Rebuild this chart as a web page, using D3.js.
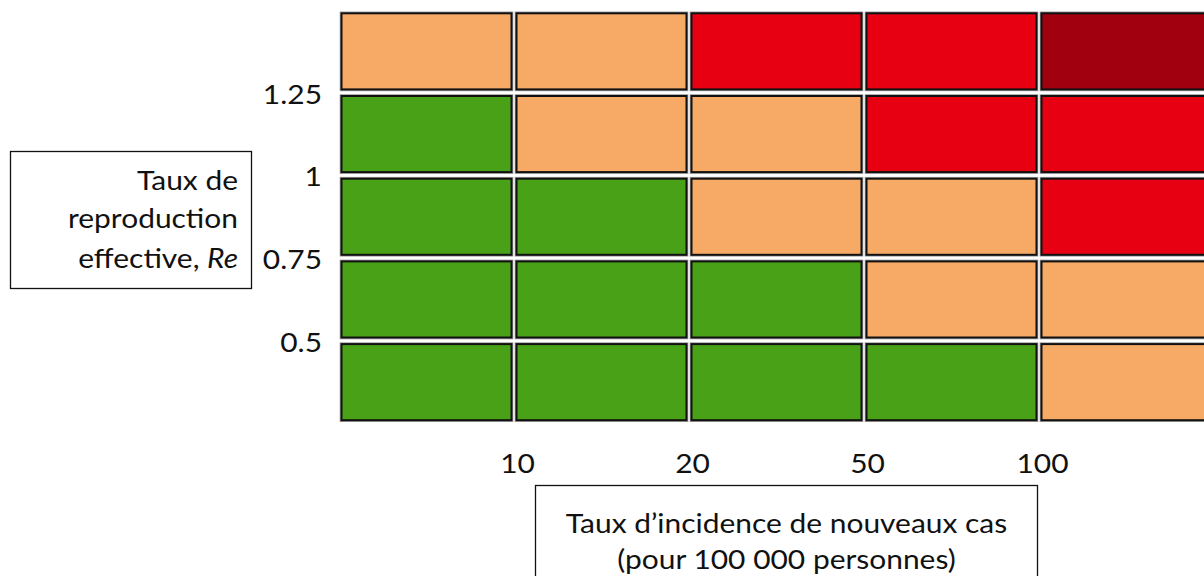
<!DOCTYPE html>
<html><head><meta charset="utf-8">
<script src="https://cdn.jsdelivr.net/npm/d3@7"></script>
<style>
html,body{margin:0;padding:0;background:#fff;}
svg text{font-family:Lato,"Open Sans",sans-serif;fill:#111;}
</style></head>
<body><svg id="c" width="1204" height="576"></svg>
<script>
// Column categories: incidence per 100 000 (left to right)
const incidenceBins = ["<10","10-20","20-50","50-100",">100"];
const incidenceTicks = ["10","20","50","100"];
// Row categories: Re (top to bottom)
const reBins = [">1.25","1-1.25","0.75-1","0.5-0.75","<0.5"];
const reTicks = ["1.25","1","0.75","0.5"];
// risk level per row (top→bottom), per column (left→right): 0 green, 1 orange, 2 red, 3 dark red
const riskRow0 = [1,1,2,2,3];
const riskRow1 = [0,1,1,2,2];
const riskRow2 = [0,0,1,1,2];
const riskRow3 = [0,0,0,1,1];
const riskRow4 = [0,0,0,0,1];
const levelColors = ["#48A117","#F7AA66","#E60012","#A1000F"];

const yTitleLines = ["Taux de","reproduction","effective, "];
const xTitleLines = ["Taux d\u2019incidence de nouveaux cas","(pour 100 000 personnes)"];

const svg = d3.select("#c");
const SX = 1.13, FS = 26.5;

const x = d3.scaleLinear().domain([0, incidenceBins.length]).range([339, 339 + 5*175]);
const y = d3.scaleLinear().domain([0, reBins.length]).range([10, 10 + 5*82.7]);

const rows = [riskRow0,riskRow1,riskRow2,riskRow3,riskRow4];
const cells = [];
rows.forEach((r,ri)=>r.forEach((v,ci)=>cells.push({ri,ci,v})));

const gx = 2.5, gy = 3.3;
const g = svg.append("g");
g.selectAll("rect.halo").data(cells).join("rect").attr("class","halo")
  .attr("x",d=>x(d.ci)+gx).attr("y",d=>y(d.ri)+gy)
  .attr("width",d=>x(d.ci+1)-x(d.ci)-2*gx).attr("height",d=>y(d.ri+1)-y(d.ri)-2*gy)
  .attr("fill","none").attr("stroke","#a0a0a0").attr("stroke-width",3.6);
g.selectAll("rect.cell").data(cells).join("rect").attr("class","cell")
  .attr("x",d=>x(d.ci)+gx).attr("y",d=>y(d.ri)+gy)
  .attr("width",d=>x(d.ci+1)-x(d.ci)-2*gx).attr("height",d=>y(d.ri+1)-y(d.ri)-2*gy)
  .attr("fill",d=>levelColors[d.v]).attr("stroke","#111").attr("stroke-width",2);

// X axis (tick labels at bin boundaries)
const xAxis = d3.axisBottom(x).tickValues([1,2,3,4]).tickFormat(d=>incidenceTicks[d-1]).tickSize(0).tickPadding(0);
const ax = svg.append("g").attr("transform","translate(3,473)").call(xAxis);
ax.select(".domain").remove();
ax.selectAll("text").attr("y",0).attr("dy",null).attr("font-size",FS)
  .attr("transform",`scale(${SX},1)`).style("font-family","Lato");

const yAxis = d3.axisLeft(y).tickValues([1,2,3,4]).tickFormat(d=>reTicks[d-1]).tickSize(0).tickPadding(0);
const ay = svg.append("g").attr("transform","translate(322,1)").call(yAxis);
ay.select(".domain").remove();
ay.selectAll("text").attr("x",0).attr("dy","0.36em").attr("font-size",FS)
  .attr("transform",`scale(${SX},1)`).style("font-family","Lato");

// Y title box
svg.append("rect").attr("x",10.5).attr("y",151.5).attr("width",241).attr("height",137)
  .attr("fill","none").attr("stroke","#111").attr("stroke-width",1.3);
const yl = [190,228,268];
yTitleLines.forEach((t,i)=>{
  const tx = svg.append("text").attr("text-anchor","end").attr("font-size",FS)
    .attr("transform",`translate(238,${yl[i]}) scale(${SX},1)`);
  tx.append("tspan").text(t);
  if(i===2) tx.append("tspan").attr("font-style","italic").text("Re");
});

// X title box
svg.append("rect").attr("x",535.5).attr("y",485.5).attr("width",502).attr("height",120)
  .attr("fill","none").attr("stroke","#111").attr("stroke-width",1.3);
const xl = [533,569];
xTitleLines.forEach((t,i)=>{
  svg.append("text").attr("text-anchor","middle").attr("font-size",FS)
    .attr("transform",`translate(786.5,${xl[i]}) scale(${SX},1)`).text(t);
});
</script></body></html>
